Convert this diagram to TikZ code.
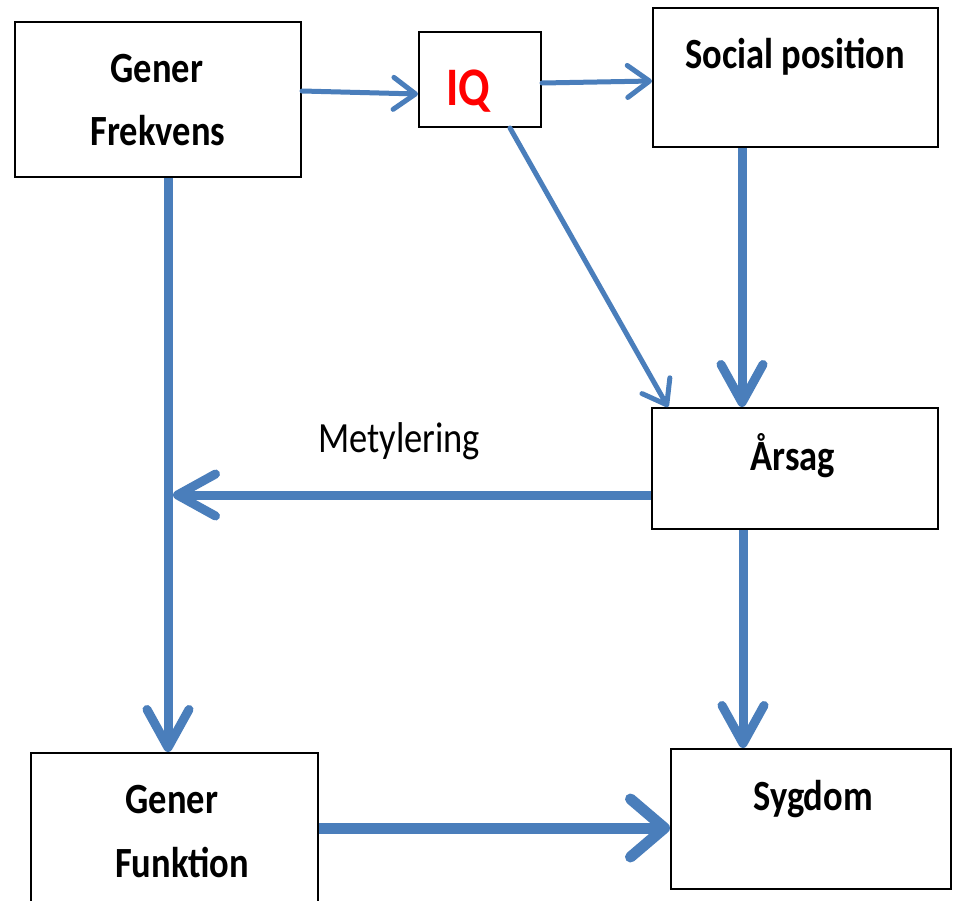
\documentclass[tikz,border=0pt]{standalone}
\usepackage{fontspec}
\setmainfont{Carlito}
\usetikzlibrary{arrows.meta}
\definecolor{flowblue}{RGB}{74,126,187}
\newcommand\tallt[1]{\scalebox{1}[1.18]{#1}}
\tikzset{
  box/.style={draw=black, line width=2pt, fill=white, inner sep=0pt},
  lbl/.style={anchor=base, inner sep=0pt, font=\fontsize{36.5}{44}\selectfont\bfseries},
  plainlbl/.style={anchor=base, inner sep=0pt, font=\fontsize{36.5}{44}\selectfont},
  thinflow/.style={draw=flowblue, line width=5pt, line cap=round,
    -{Straight Barb[length=22pt, width=32pt, round]}},
  thickflow/.style={draw=flowblue, line width=9pt,
    -{Straight Barb[length=38pt, width=42pt, round]}},
  widestflow/.style={draw=flowblue, line width=11pt,
    -{Straight Barb[length=34pt, width=58pt, round]}},
}
\begin{document}
\begin{tikzpicture}[x=1pt, y=-1pt]
\clip (0,0) rectangle (955,900);
\fill[white] (0,0) rectangle (955,900);

% boxes
\node[box, minimum width=286pt, minimum height=155pt] (gf)   at (158,99.5) {};
\node[box, minimum width=122pt, minimum height=95pt]  (iq)   at (480,79.5) {};
\node[box, minimum width=285pt, minimum height=139pt] (sp)   at (795.5,77.5) {};
\node[box, minimum width=286pt, minimum height=121pt] (ar)   at (795,468.5) {};
\node[box, minimum width=287pt, minimum height=154pt] (gfun) at (174.5,830) {};
\node[box, minimum width=280pt, minimum height=140pt] (syg)  at (811,819) {};

% box texts
\node[lbl] (gf-a) at (157,82)  {\tallt{Gener}};
\node[lbl] (gf-b) at (158,145) {\tallt{Frekvens}};
\node[lbl, text=red, font=\fontsize{46}{52}\selectfont\bfseries] (iq-t) at (468,105) {\tallt{IQ}};
\node[lbl] (sp-t) at (795,68)  {\tallt{Social position}};
\node[lbl] (ar-t) at (793,470) {\tallt{Årsag}};
\node[lbl] (syg-t) at (813,810) {\tallt{Sygdom}};
\node[lbl] (gfun-a) at (172,813) {\tallt{Gener}};
\node[lbl] (gfun-b) at (182,877) {\tallt{Funktion}};
\node[plainlbl] (met) at (399,452) {\tallt{Metylering}};

% junction on the vertical line
\coordinate (meet) at (173,495);

% connectors
\draw[thinflow] (gf.east |- 0,91) -- (iq.west |- 0,94);
\draw[thinflow] (iq.east |- 0,83) -- (sp.west |- 0,81);
\draw[thinflow] (iq.south -| 510,0) -- (ar.north -| 668,0);
\draw[thickflow] (sp.south -| 742,0) -- (ar.north -| 742,0);
\draw[thickflow] (gf.south -| 168,0) -- (gfun.north -| 168,0);
\draw[thickflow] (ar.west |- 0,495) -- (meet);
\draw[thickflow] (ar.south -| 743,0) -- (syg.north -| 743,0);
\draw[widestflow] (gfun.east |- 0,828) -- (syg.west |- 0,828);
\end{tikzpicture}
\end{document}
